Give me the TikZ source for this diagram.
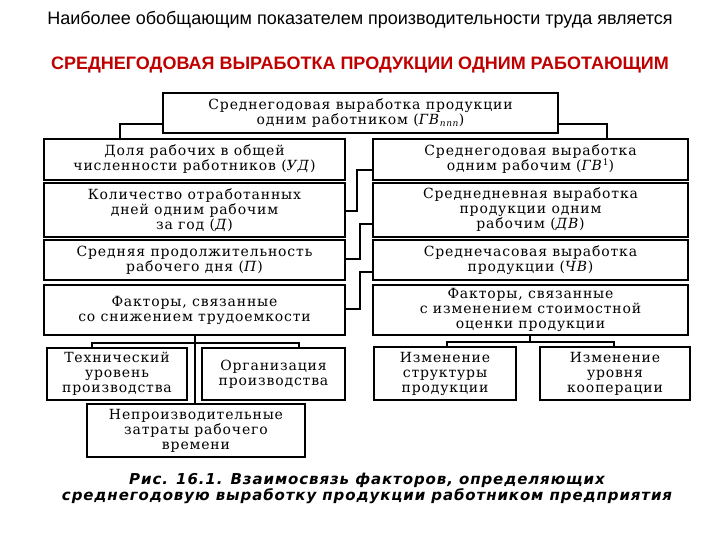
\documentclass[tikz,border=0pt]{standalone}
\usepackage{fontspec}
\setmainfont{DejaVu Serif}[LetterSpace=6]
\setsansfont{Liberation Sans}
\newfontfamily\capfont{DejaVu Sans}[LetterSpace=6]
\begin{document}
\begin{tikzpicture}[x=1pt,y=-1pt,
  bx/.style={draw,line width=1.7pt,align=center,inner sep=0pt,font=\fontsize{14}{15}\selectfont},
  ln/.style={line width=1.5pt}]
\useasboundingbox (0,0) rectangle (720,540);
\node[font=\sffamily\fontsize{18}{18}\selectfont] (t1) at (360,20) {Наиболее обобщающим показателем производительности труда является};
\node[font=\sffamily\bfseries\fontsize{18}{18}\selectfont,text={rgb,255:red,192;green,0;blue,0}] (t2) at (360,65) {СРЕДНЕГОДОВАЯ ВЫРАБОТКА ПРОДУКЦИИ ОДНИМ РАБОТАЮЩИМ};
\newcommand{\bxat}[6]{\node[bx,minimum width=#3-#1,minimum height=#4-#2] (#5) at ({(#1+#3)/2},{(#2+#4)/2}) {#6};}
\bxat{163}{93}{558}{133}{top}{Среднегодовая выработка продукции\\одним работником (\textit{ГВ}\raisebox{-0.3ex}{\fontsize{9}{9}\selectfont\textit{ппп}})}
\bxat{44}{139}{345}{180}{l1}{Доля рабочих в общей\\численности работников (\textit{УД})}
\bxat{44}{183}{345}{237}{l2}{Количество отработанных\\дней одним рабочим\\за год (\textit{Д})}
\bxat{44}{240}{345}{280}{l3}{Средняя продолжительность\\рабочего дня (\textit{П})}
\bxat{44}{285}{345}{335}{l4}{Факторы, связанные\\со снижением трудоемкости}
\bxat{373}{139}{688}{180}{r1}{Среднегодовая выработка\\одним рабочим (\textit{ГВ}\raisebox{0.7ex}{\fontsize{9}{9}\selectfont 1})}
\bxat{373}{183}{688}{237}{r2}{Среднедневная выработка\\продукции одним\\рабочим (\textit{ДВ})}
\bxat{373}{240}{688}{280}{r3}{Среднечасовая выработка\\продукции (\textit{ЧВ})}
\bxat{373}{285}{688}{335}{r4}{Факторы, связанные\\с изменением стоимостной\\оценки продукции}
\bxat{47}{348}{187}{400}{b1}{Технический\\уровень\\производства}
\bxat{202}{348}{345}{400}{b2}{Организация\\производства}
\bxat{87}{404}{305}{457}{b3}{Непроизводительные\\затраты рабочего\\времени}
\bxat{374}{347}{516}{400}{b4}{Изменение\\структуры\\продукции}
\bxat{540}{347}{690}{400}{b5}{Изменение\\уровня\\кооперации}
\draw[ln] (top.west|-0,124) -| (120,0|-l1.north);
\draw[ln] (top.east|-0,124) -| (607,0|-r1.north);
\draw[ln] (l2.east|-0,211) -- (357,211) |- (r1.west|-0,170);
\draw[ln] (l3.east|-0,259) -- (360,259) |- (r2.west|-0,224);
\draw[ln] (l4.east|-0,309) -- (360,309) |- (r3.west|-0,272);
\draw[ln] (195,0|-l4.south) -- (195,0|-b3.north);
\draw[ln] (92,0|-b1.north) |- (299,343) -- (299,0|-b2.north);
\draw[ln] (530,0|-r4.south) -- (530,342);
\draw[ln] (447,0|-b4.north) |- (614,342) -- (614,0|-b5.north);
\node[font=\capfont\bfseries\itshape\fontsize{15}{15}\selectfont,align=center] (cap) at (367,488) {Рис. 16.1. Взаимосвязь факторов, определяющих\\среднегодовую выработку продукции работником предприятия};
\end{tikzpicture}
\end{document}
